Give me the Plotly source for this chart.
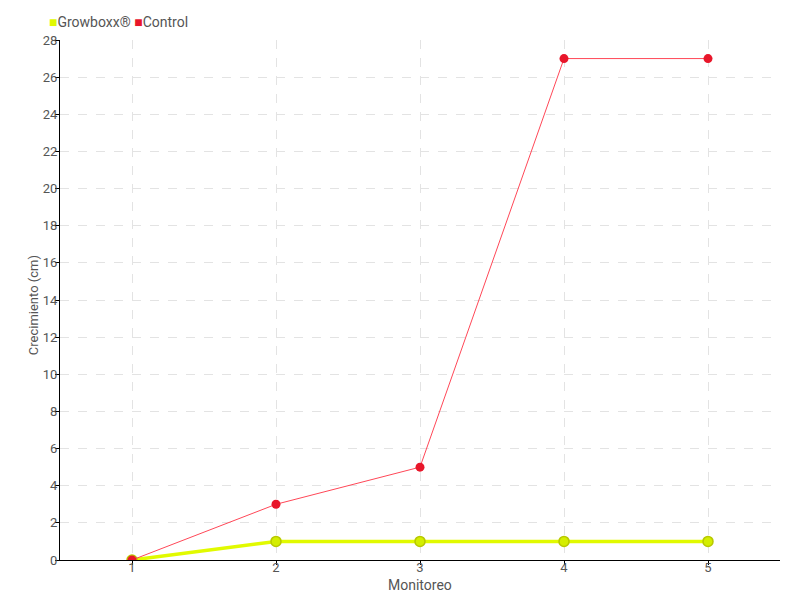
import plotly.graph_objects as go

monitoreo = [1, 2, 3, 4, 5]
growboxx = [0, 1, 1, 1, 1]
control = [0, 3, 5, 27, 27]
y_ticks = list(range(0, 29, 2))
series_names = ["Growboxx®", "Control"]

FONT = "Roboto, sans-serif"
YEL = "#e1fa00"
RED = "#e8162a"
GREY = "#555555"

fig = go.Figure()
fig.add_trace(go.Scatter(
    x=monitoreo, y=growboxx, mode="lines+markers", name=series_names[0],
    line=dict(color=YEL, width=3.5),
    marker=dict(color="#d4ee00", size=10, line=dict(color="#b8c800", width=1.5)),
    showlegend=False,
))
fig.add_trace(go.Scatter(
    x=monitoreo, y=control, mode="lines+markers", name=series_names[1],
    line=dict(color="#ff4757", width=1),
    marker=dict(color=RED, size=9),
    showlegend=False,
))

legend_text = (f"<span style='color:{YEL}'>■</span>{series_names[0]} "
               f"<span style='color:{RED}'>■</span>{series_names[1]}")
fig.add_annotation(text=legend_text, xref="paper", yref="paper",
                   x=-0.018, y=1.0 + 18 / 520, xanchor="left", yanchor="middle",
                   showarrow=False, font=dict(size=14, color=GREY))
# axis titles
fig.add_annotation(text="Monitoreo", xref="paper", yref="paper",
                   x=0.5, y=-25 / 520, xanchor="center", yanchor="middle",
                   showarrow=False, font=dict(size=14, color=GREY))
fig.add_annotation(text="Crecimiento (cm)", xref="paper", yref="paper",
                   x=-27 / 720, y=0.49, xanchor="center", yanchor="middle",
                   textangle=-90, showarrow=False, font=dict(size=13, color=GREY))

fig.update_layout(
    width=792, height=592,
    margin=dict(l=52, r=20, t=32, b=40, autoexpand=False),
    plot_bgcolor="white", paper_bgcolor="white",
    font=dict(family=FONT, size=14, color=GREY),
    xaxis=dict(
        range=[0.5, 5.5], tickvals=monitoreo, ticktext=[str(v) for v in monitoreo],
        showline=True, linecolor="black", linewidth=1,
        ticks="outside", ticklen=4, tickcolor="black",
        ticklabelstandoff=-9, tickfont=dict(size=13),
        showgrid=True, gridcolor="#e3e3e3", griddash="dash",
        zeroline=False,
    ),
    yaxis=dict(
        range=[0, 28], tickvals=y_ticks, tickfont=dict(size=13),
        showline=True, linecolor="black", linewidth=1,
        ticks="outside", ticklen=4, tickcolor="black",
        ticklabelstandoff=-5,
        showgrid=True, gridcolor="#e3e3e3", griddash="dash",
        zeroline=False,
    ),
)
fig.write_html("out.html")
